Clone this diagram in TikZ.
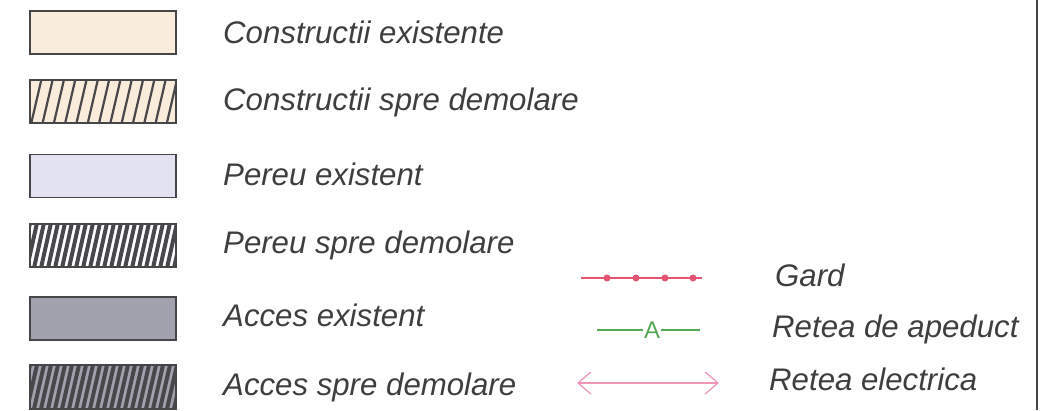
\documentclass[tikz,border=0pt]{standalone}
\usepackage{fontspec}
\setmainfont{Liberation Sans}
\usetikzlibrary{arrows.meta}

\definecolor{framegray}{RGB}{70,70,72}
\definecolor{textgray}{RGB}{62,62,64}
\definecolor{beige}{RGB}{250,236,218}
\definecolor{pereu}{RGB}{226,226,240}
\definecolor{acces}{RGB}{162,162,174}
\definecolor{hatchdark}{RGB}{72,72,76}
\definecolor{gardred}{RGB}{228,84,112}
\definecolor{apgreen}{RGB}{84,168,84}
\definecolor{elpink}{RGB}{240,150,180}

\begin{document}
\begin{tikzpicture}[x=1pt,y=-1pt,
  legbox/.style={draw=framegray,line width=1.4pt,minimum width=146pt,minimum height=43pt,inner sep=0pt},
  legtext/.style={anchor=base west,inner sep=0pt,text=textgray,font=\fontsize{31.2}{36}\selectfont\itshape}]
\useasboundingbox (0,0) rectangle (1053,410);

% Left column: boxes
\node[legbox,fill=beige] (ce) at (103,32.5) {};
\node[legbox,fill=beige] (cd) at (103,101.5) {};
\node[legbox,fill=pereu] (pe) at (103,176) {};
\node[legbox,fill=white] (pd) at (103,245.5) {};
\node[legbox,fill=acces] (ae) at (103,318.5) {};
\node[legbox,fill=acces] (ad) at (103,387) {};

% Hatching
\begin{scope}
  \clip (cd.south west) rectangle (cd.north east);
  \foreach \x in {20,31.3,...,190} \draw[hatchdark,line width=2.2pt] (\x,123) -- ++(10,-43);
\end{scope}
\begin{scope}
  \clip (pd.south west) rectangle (pd.north east);
  \foreach \x in {20,27,...,190} \draw[hatchdark,line width=4pt] (\x,268) -- ++(10,-45);
\end{scope}
\begin{scope}
  \clip (ad.south west) rectangle (ad.north east);
  \foreach \x in {20,27,...,190} \draw[hatchdark,line width=4pt] (\x,409) -- ++(10,-44);
\end{scope}
\foreach \b in {cd,pd,ad} \draw[framegray,line width=1.4pt] (\b.south west) rectangle (\b.north east);

% Left column: texts
\node[legtext] (tce) at (223,43) {Constructii existente};
\node[legtext] (tcd) at (223,110) {Constructii spre demolare};
\node[legtext] (tpe) at (223,185) {Pereu existent};
\node[legtext] (tpd) at (223,253) {Pereu spre demolare};
\node[legtext] (tae) at (223,326) {Acces existent};
\node[legtext] (tad) at (223,395) {Acces spre demolare};

% Right column: Gard
\coordinate (g1) at (581,278);
\coordinate (g2) at (702,278);
\draw[gardred,line width=2pt] (g1) -- (g2);
\foreach \x in {607,636,665,693} \fill[gardred] (\x,278) circle (3.5pt);
\node[legtext] (tg) at (775,286) {Gard};

% Retea de apeduct
\coordinate (ap1) at (597,330);
\coordinate (ap2) at (700,330);
\node[text=apgreen,inner sep=1pt,font=\fontsize{24}{26}\selectfont] (aA) at (652,330) {A};
\draw[apgreen,line width=2.6pt] (ap1) -- (aA.west |- ap1);
\draw[apgreen,line width=2.6pt] (aA.east |- ap2) -- (ap2);
\node[legtext] (tap) at (772,337) {Retea de apeduct};

% Retea electrica
\coordinate (el1) at (577,383);
\coordinate (el2) at (719,383);
\draw[elpink,line width=1.2pt,{Straight Barb[length=13pt,width=22pt]}-{Straight Barb[length=13pt,width=22pt]}] (el1) -- (el2);
\node[legtext] (tel) at (769,390) {Retea electrica};

% Frame line
\coordinate (fr1) at (1037,0);
\coordinate (fr2) at (1037,410);
\draw[framegray,line width=2.6pt] (fr1) -- (fr2);
\end{tikzpicture}
\end{document}
